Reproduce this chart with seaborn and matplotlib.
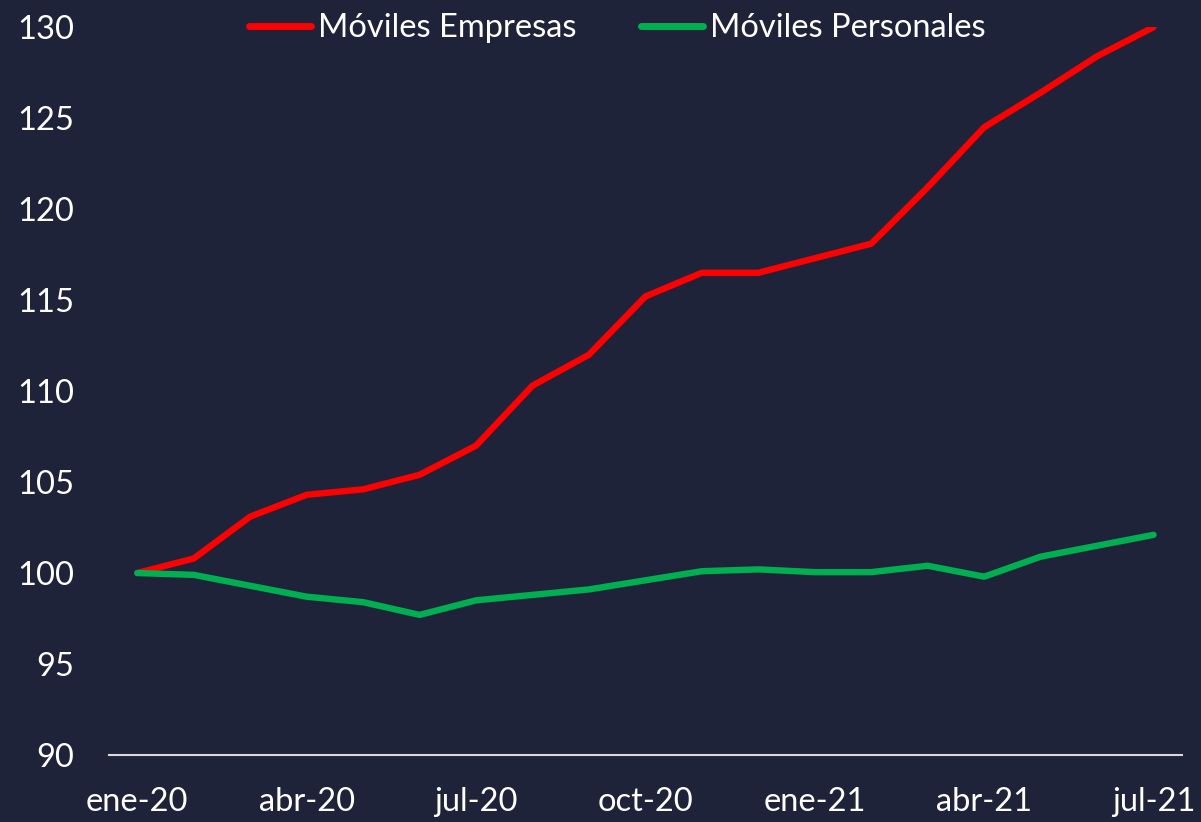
import pandas as pd
import matplotlib.pyplot as plt
import seaborn as sns

# ---------------- DATA ----------------
meses = ['ene-20', 'feb-20', 'mar-20', 'abr-20', 'may-20', 'jun-20', 'jul-20',
         'ago-20', 'sep-20', 'oct-20', 'nov-20', 'dic-20', 'ene-21', 'feb-21',
         'mar-21', 'abr-21', 'may-21', 'jun-21', 'jul-21']
empresas = [100.0, 100.8, 103.1, 104.3, 104.6, 105.4, 107.0, 110.3, 112.0, 115.2,
            116.5, 116.5, 117.3, 118.1, 121.2, 124.5, 126.4, 128.4, 130.0]
personales = [100.0, 99.9, 99.3, 98.7, 98.4, 97.7, 98.5, 98.8, 99.1, 99.6,
              100.1, 100.2, 100.05, 100.05, 100.4, 99.8, 100.9, 101.5, 102.1]
series = ['Móviles Empresas', 'Móviles Personales']
yticks = [90, 95, 100, 105, 110, 115, 120, 125, 130]

bg = '#1F2339'
colores = {'Móviles Empresas': '#FF0000', 'Móviles Personales': '#00B050'}

df = pd.DataFrame({
    'pos': list(range(len(meses))) * 2,
    'valor': empresas + personales,
    'serie': [series[0]] * len(meses) + [series[1]] * len(meses),
})

sns.set_theme(style='white')
plt.rcParams['font.family'] = ['Lato', 'DejaVu Sans']

fig = plt.figure(figsize=(12.01, 8.22), dpi=100, facecolor=bg)
ax = fig.add_axes([0.0908, 0.0815, 0.8932, 0.8855])
ax.set_facecolor(bg)

sns.lineplot(data=df, x='pos', y='valor', hue='serie', palette=colores,
             linewidth=4.6, ax=ax, legend=False)

ax.set_xlim(-0.5, 18.5)
ax.set_ylim(90, 130)
ax.set_yticks(yticks)
ax.set_yticklabels([str(v) for v in yticks])
ax.set_xticks(range(0, len(meses), 3))
ax.set_xticklabels(meses[::3])
ax.tick_params(axis='both', colors='white', labelsize=23.5, length=0)
ax.tick_params(axis='y', pad=25)
ax.tick_params(axis='x', pad=23)
ax.set_xlabel('')
ax.set_ylabel('')

for s in ['top', 'right', 'left']:
    ax.spines[s].set_visible(False)
ax.spines['bottom'].set_color('#D9D9D9')
ax.spines['bottom'].set_linewidth(1.5)

handles = [plt.Line2D([], [], color=colores[s], lw=5, solid_capstyle='round') for s in series]
fig.legend(handles, series, loc='center', bbox_to_anchor=(0.514, 0.966), ncol=2,
           frameon=False, fontsize=23.5, labelcolor='white', handlelength=1.9,
           handletextpad=0.2, columnspacing=2.0)

fig.savefig('out.png', dpi=100, facecolor=bg)
